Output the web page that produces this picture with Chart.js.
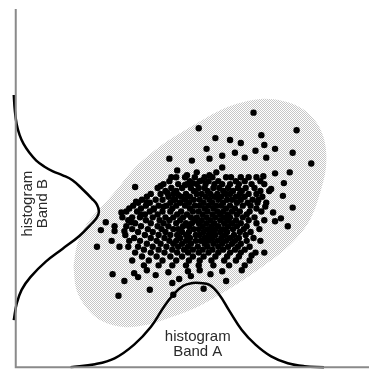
<!DOCTYPE html>
<html>
<head>
<meta charset="utf-8">
<script src="https://cdn.jsdelivr.net/npm/chart.js"></script>
<style>
  body { margin: 0; background: #fff; }
  canvas { display: block; }
</style>
</head>
<body>
<canvas id="scatterChart" width="373" height="377"></canvas>
<script>
// everything is in reference pixel units, y counted downward
const axisLine = [[12, 5], [12, 371], [373, 371]];

// histogram curves
const bandA = [[68, 371], [93, 368], [113, 362], [133, 348], [150, 330], [163, 310], [173, 297],
  [183, 288], [193, 285], [200, 285], [210, 287], [220, 297], [230, 313], [243, 333],
  [257, 348], [273, 360], [290, 367], [307, 370], [327, 371]];
const bandB = [[10, 93], [11, 108], [13, 123], [16, 134], [20, 143], [26, 152], [33, 160],
  [41, 166], [50, 171], [60, 175], [70, 180], [80, 189], [90, 199], [95, 205], [97, 212],
  [95, 218], [90, 224], [77, 237], [60, 250], [43, 263], [27, 279], [18, 292], [13, 306], [10, 323]];

// outline of the shaded cloud
const cloudOutline = [[71, 268], [75, 245], [85, 224], [100, 207], [115, 190], [133, 168],
  [150, 153], [167, 140], [185, 129], [200, 120], [218, 110], [238, 102], [262, 97],
  [285, 99], [305, 107], [320, 122], [328, 142], [329, 167], [323, 193], [313, 220],
  [300, 238], [282, 255], [262, 270], [240, 285], [215, 300], [190, 313], [165, 322],
  [145, 328], [122, 330], [100, 324], [84, 310], [74, 292], [71, 268]];

// loose pixels round the cluster
const outerDots = [
  [255, 111], [199, 127], [299, 129], [263, 134], [216, 137], [231, 139], [242, 142], [266, 144],
  [207, 148], [257, 150], [277, 148], [295, 152], [210, 158], [223, 155], [236, 152], [246, 157],
  [268, 157], [314, 163], [169, 158], [192, 160], [292, 172], [277, 173], [265, 176], [286, 183],
  [273, 189], [285, 196], [295, 208], [283, 219], [290, 227], [275, 213], [260, 200], [267, 207],
  [277, 222], [177, 170], [171, 177], [187, 175], [197, 172], [134, 187], [160, 186], [135, 202],
  [146, 203], [120, 213], [153, 210], [163, 207], [173, 200], [167, 193], [178, 195], [185, 185],
  [193, 183], [203, 180], [210, 175], [217, 172], [223, 167], [140, 215], [130, 223], [113, 227],
  [104, 223], [99, 231], [95, 248], [113, 232], [123, 232], [110, 242], [118, 248], [111, 276],
  [123, 283], [117, 298], [149, 292], [133, 275], [137, 279], [146, 272], [155, 277], [168, 274],
  [172, 285], [179, 281], [188, 273], [191, 278], [173, 297], [204, 291], [200, 272], [211, 276],
  [223, 273], [227, 283], [243, 272], [266, 254], [253, 257]];

// dense middle, one row of x positions per y
const coreRows = [
  [177, [176, 185, 195, 205, 213, 227, 232, 242, 250, 258]],
  [181, [169, 190, 200, 209, 219, 237, 246, 262]],
  [184, [163, 178, 187, 197, 206, 215, 223, 231, 240, 253, 266]],
  [188, [157, 171, 182, 191, 199, 205, 214, 220, 229, 239, 247, 256]],
  [191, [165, 176, 194, 208, 224, 234, 243, 262, 271]],
  [194, [150, 160, 173, 186, 197, 202, 211, 218, 227, 231, 241, 250, 258]],
  [197, [146, 168, 181, 190, 206, 215, 222, 237, 246, 264]],
  [200, [141, 155, 162, 175, 185, 194, 200, 210, 219, 228, 233, 242, 254]],
  [203, [137, 149, 170, 180, 189, 204, 213, 224, 238, 249, 259, 268]],
  [206, [132, 145, 158, 166, 176, 185, 195, 200, 209, 217, 222, 231, 244, 252]],
  [209, [128, 140, 153, 172, 190, 205, 214, 227, 236, 258]],
  [212, [125, 136, 149, 162, 170, 181, 193, 199, 208, 218, 224, 233, 241, 251, 263]],
  [215, [144, 157, 177, 187, 203, 213, 221, 229, 238, 248]],
  [218, [121, 131, 139, 152, 165, 173, 183, 191, 197, 207, 216, 225, 231, 244, 256]],
  [221, [127, 145, 159, 169, 180, 195, 202, 211, 221, 229, 237, 250, 266]],
  [224, [134, 150, 163, 176, 186, 192, 199, 207, 215, 225, 233, 242, 258]],
  [227, [125, 140, 157, 168, 183, 189, 203, 212, 219, 229, 238, 248]],
  [230, [131, 147, 161, 173, 178, 194, 199, 208, 216, 224, 234, 245, 261]],
  [233, [137, 152, 165, 182, 189, 204, 212, 221, 228, 241, 252]],
  [236, [124, 144, 158, 170, 177, 186, 196, 200, 209, 216, 226, 235, 247]],
  [239, [133, 150, 164, 180, 190, 205, 213, 222, 231, 240, 255]],
  [242, [128, 139, 156, 169, 176, 186, 196, 201, 209, 218, 227, 236, 248, 262]],
  [245, [146, 160, 173, 182, 191, 205, 214, 223, 233, 242]],
  [248, [127, 137, 152, 166, 178, 188, 198, 208, 219, 229, 239, 251]],
  [251, [143, 158, 172, 184, 193, 203, 213, 224, 236, 246]],
  [254, [134, 150, 164, 177, 188, 199, 209, 219, 231, 242, 257]],
  [258, [141, 156, 170, 182, 193, 204, 216, 228, 240]],
  [262, [131, 148, 162, 176, 189, 200, 212, 225, 237, 251]],
  [267, [143, 158, 172, 186, 199, 214, 230, 246]]];

const labelA = ['histogram', 'Band A'];
const labelB = ['histogram', 'Band B'];

function toPoints(list) {
  return list.map(p => ({ x: p[0], y: p[1] }));
}

const corePoints = [];
coreRows.forEach(row => {
  row[1].forEach(x => corePoints.push({ x: x, y: row[0] }));
});

// light grey dot screen like the original print
function dotPattern() {
  const c = document.createElement('canvas');
  c.width = 2; c.height = 2;
  const g = c.getContext('2d');
  g.fillStyle = '#ffffff';
  g.fillRect(0, 0, 2, 2);
  g.fillStyle = '#c6c6c6';
  g.fillRect(0, 0, 1, 1);
  g.fillRect(1, 1, 1, 1);
  return g.createPattern(c, 'repeat');
}

const labelPlugin = {
  id: 'bandLabels',
  afterDatasetsDraw(chart) {
    const ctx = chart.ctx;
    const xs = chart.scales.x, ys = chart.scales.y;
    ctx.save();
    ctx.fillStyle = '#2a2a2a';
    ctx.font = '15px "Liberation Sans", Arial, sans-serif';
    ctx.textAlign = 'center';
    ctx.textBaseline = 'middle';
    ctx.fillText(labelA[0], xs.getPixelForValue(198), ys.getPixelForValue(340));
    ctx.fillText(labelA[1], xs.getPixelForValue(198), ys.getPixelForValue(355));
    // rotated label on the left
    ctx.translate(xs.getPixelForValue(32), ys.getPixelForValue(204));
    ctx.rotate(-Math.PI / 2);
    ctx.fillText(labelB[0], 0, -7);
    ctx.fillText(labelB[1], 0, 8);
    ctx.restore();
  }
};

const ctx = document.getElementById('scatterChart').getContext('2d');
const chart = new Chart(ctx, {
  type: 'scatter',
  data: {
    datasets: [
      {
        data: toPoints(axisLine),
        showLine: true,
        borderColor: '#8a8a8a',
        borderWidth: 2,
        pointRadius: 0,
        tension: 0,
        order: 1
      },
      {
        data: toPoints(bandA),
        showLine: true,
        borderColor: '#000',
        borderWidth: 2.5,
        pointRadius: 0,
        tension: 0.4,
        order: 2
      },
      {
        data: toPoints(bandB),
        showLine: true,
        borderColor: '#000',
        borderWidth: 2.5,
        pointRadius: 0,
        tension: 0.4,
        order: 2
      },
      {
        data: toPoints(outerDots).concat(corePoints),
        backgroundColor: '#000',
        borderWidth: 0,
        pointRadius: 3.2,
        order: 3
      },
      {
        data: toPoints(cloudOutline),
        showLine: true,
        fill: 'shape',
        backgroundColor: dotPattern(),
        borderWidth: 0,
        borderColor: 'rgba(0,0,0,0)',
        pointRadius: 0,
        tension: 0.35,
        order: 10
      }
    ]
  },
  options: {
    responsive: false,
    animation: false,
    events: [],
    layout: { padding: 0 },
    plugins: { legend: { display: false }, tooltip: { enabled: false } },
    scales: {
      x: { type: 'linear', min: 0, max: 373, display: false },
      y: { type: 'linear', min: 0, max: 377, reverse: true, display: false }
    }
  },
  plugins: [labelPlugin]
});
</script>
</body>
</html>
